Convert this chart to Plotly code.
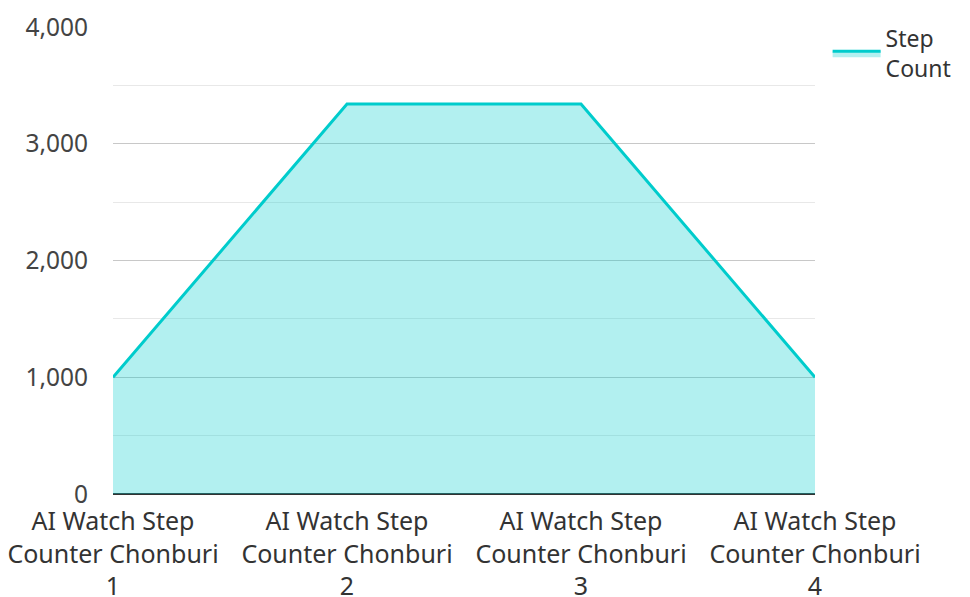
import plotly.graph_objects as go

categories = ["AI Watch Step<br>Counter Chonburi<br>1", "AI Watch Step<br>Counter Chonburi<br>2",
              "AI Watch Step<br>Counter Chonburi<br>3", "AI Watch Step<br>Counter Chonburi<br>4"]
step_count = [1000, 3340, 3340, 1000]
y_ticks = [0, 1000, 2000, 3000, 4000]
y_tick_labels = ["0", "1,000", "2,000", "3,000", "4,000"]

fig = go.Figure()
fig.add_trace(go.Scatter(
    x=categories, y=step_count, name="Step<br>Count", mode="lines",
    fill="tozeroy", fillcolor="rgba(0,204,204,0.3)",
    line=dict(color="#00cccc", width=3),
))

fig.update_layout(
    width=962, height=589,
    margin=dict(l=105, r=155, t=19, b=103),
    paper_bgcolor="white", plot_bgcolor="white",
    font=dict(family="Noto Sans", size=24.5, color="#444"),
    legend=dict(xref="container", yref="container", x=0.852, y=0.985,
                xanchor="left", yanchor="top",
                font=dict(size=23, color="#333"), itemwidth=48),
    showlegend=True,
)
fig.update_xaxes(type="category", range=[0, 3], showgrid=False, ticks="",
                 tickfont=dict(color="#333", size=25), showline=False, automargin=False,
                 ticklabelstandoff=10)
fig.update_yaxes(range=[0, 4000], tickvals=y_ticks, ticktext=y_tick_labels,
                 showgrid=True, gridcolor="#c8c8c8", gridwidth=1,
                 zeroline=True, zerolinecolor="#333", zerolinewidth=2,
                 minor=dict(dtick=500, showgrid=True, gridcolor="#e8e8e8", gridwidth=1),
                 ticks="", ticklabelstandoff=24, automargin=False)
fig.write_html("out.html")
